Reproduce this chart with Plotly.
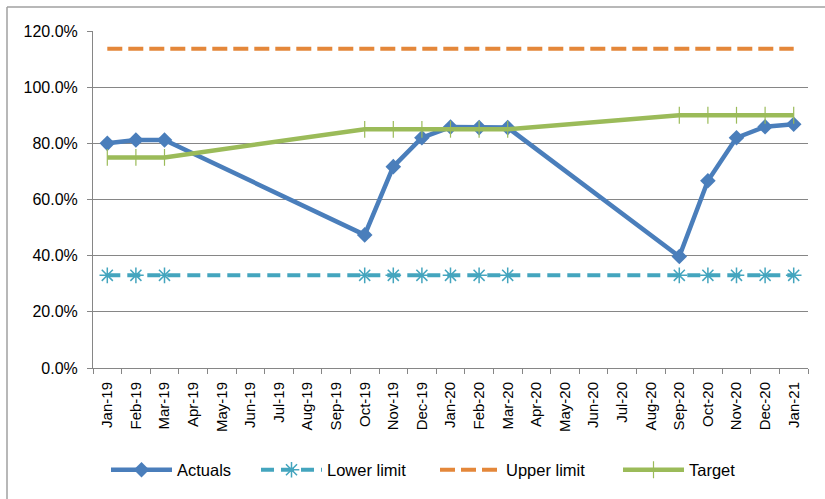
import plotly.graph_objects as go

months = ["Jan-19", "Feb-19", "Mar-19", "Apr-19", "May-19", "Jun-19", "Jul-19",
          "Aug-19", "Sep-19", "Oct-19", "Nov-19", "Dec-19", "Jan-20", "Feb-20",
          "Mar-20", "Apr-20", "May-20", "Jun-20", "Jul-20", "Aug-20", "Sep-20",
          "Oct-20", "Nov-20", "Dec-20", "Jan-21"]

N = None
actuals = [0.800, 0.812, 0.812, N, N, N, N, N, N, 0.474, 0.717, 0.820, 0.858, 0.856,
           0.856, N, N, N, N, N, 0.397, 0.667, 0.820, 0.859, 0.868]
lower_limit = [0.33, 0.33, 0.33, N, N, N, N, N, N, 0.33, 0.33, 0.33, 0.33, 0.33,
               0.33, N, N, N, N, N, 0.33, 0.33, 0.33, 0.33, 0.33]
upper_limit = [1.137, 1.137, 1.137, N, N, N, N, N, N, 1.137, 1.137, 1.137, 1.137, 1.137,
               1.137, N, N, N, N, N, 1.137, 1.137, 1.137, 1.137, 1.137]
target = [0.75, 0.75, 0.75, N, N, N, N, N, N, 0.85, 0.85, 0.85, 0.85, 0.85,
          0.85, N, N, N, N, N, 0.90, 0.90, 0.90, 0.90, 0.90]

y_ticks = [0, 0.2, 0.4, 0.6, 0.8, 1.0, 1.2]

FONT = "Liberation Sans"
fig = go.Figure()

fig.add_trace(go.Scatter(
    x=months, y=actuals, name="Actuals", mode="lines+markers", connectgaps=True,
    line=dict(color="#4A7EBB", width=4.5),
    marker=dict(symbol="diamond", size=12, color="#4A7EBB"),
    legend="legend",
))
fig.add_trace(go.Scatter(
    x=months, y=lower_limit, name="Lower limit", mode="lines+markers", connectgaps=True,
    line=dict(color="#44A5BE", width=4, dash="13px,7px"),
    marker=dict(symbol="asterisk-open", size=13, color="#44A5BE",
                line=dict(color="#44A5BE", width=1.5)),
    legend="legend2",
))
fig.add_trace(go.Scatter(
    x=months, y=upper_limit, name="Upper limit", mode="lines", connectgaps=True,
    line=dict(color="#E4873A", width=4, dash="15px,6px"),
    legend="legend3",
))
fig.add_trace(go.Scatter(
    x=months, y=target, name="Target", mode="lines+markers", connectgaps=True,
    line=dict(color="#9BBB59", width=4.5),
    marker=dict(symbol="line-ns-open", size=12, color="#9BBB59",
                line=dict(color="#9BBB59", width=1.2)),
    legend="legend4",
))


def leg(px_start):
    return dict(orientation="h", x=(px_start - 4 - 93) / 715, xanchor="left",
                y=(368 - 470) / 337, yanchor="middle",
                font=dict(family=FONT, size=16.5, color="#000000"),
                itemwidth=61, bgcolor="rgba(0,0,0,0)")


fig.update_layout(
    width=825, height=499,
    margin=dict(l=93, r=17, t=31, b=131),
    paper_bgcolor="white", plot_bgcolor="white",
    font=dict(family=FONT, color="#000000", size=16),
    hovermode=False,
    showlegend=True,
    legend=leg(110), legend2=leg(260), legend3=leg(439), legend4=leg(622),
    shapes=[
        dict(type="line", xref="paper", yref="paper",
             x0=(7 - 93) / 715, x1=(830 - 93) / 715, y0=(368 - 7) / 337, y1=(368 - 7) / 337,
             line=dict(color="#A0A0A0", width=1.5)),
        dict(type="line", xref="paper", yref="paper",
             x0=(7 - 93) / 715, x1=(7 - 93) / 715, y0=(368 - 7) / 337, y1=(368 - 505) / 337,
             line=dict(color="#A0A0A0", width=1.5)),
    ],
)

fig.update_xaxes(
    type="category", range=[-0.5, 24.5], tickson="boundaries",
    ticks="outside", ticklen=5, tickcolor="#868686", tickwidth=1,
    showline=True, linecolor="#868686", linewidth=1,
    showgrid=False, zeroline=False, tickangle=-90,
    tickfont=dict(family=FONT, size=15, color="#000000"),
    ticklabelstandoff=7,
)
fig.update_yaxes(
    range=[0, 1.2], tickvals=y_ticks, tickformat=".1%",
    ticks="outside", ticklen=5, tickcolor="#868686", tickwidth=1,
    showline=True, linecolor="#868686", linewidth=1,
    showgrid=True, gridcolor="#868686", gridwidth=1, zeroline=False,
    tickfont=dict(family=FONT, size=16, color="#000000"),
    ticklabelstandoff=6,
)

fig.write_html("out.html")
